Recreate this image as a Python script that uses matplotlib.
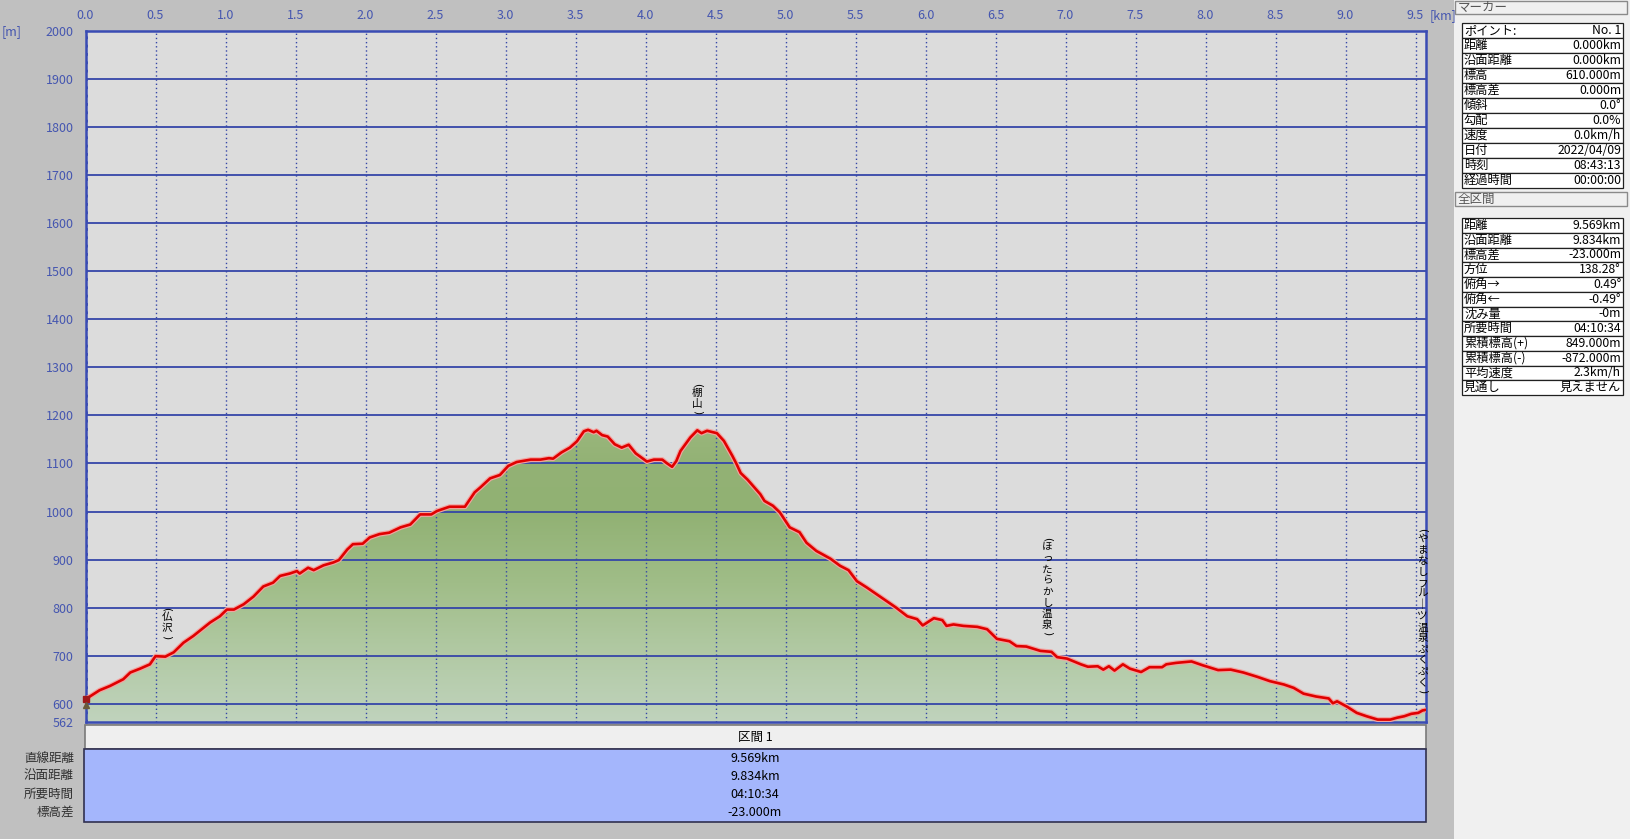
import numpy as np
import matplotlib
matplotlib.use('Agg')
import matplotlib.pyplot as plt
from matplotlib.patches import Rectangle, Polygon

plt.rcParams['font.family'] = ['Noto Sans CJK JP', 'DejaVu Sans']

# ---------------- data ----------------
km = [0.00, 0.02, 0.10, 0.175, 0.27, 0.32, 0.39, 0.46, 0.50, 0.57,
      0.63, 0.70, 0.77, 0.83, 0.89, 0.96, 1.01, 1.06, 1.13, 1.20,
      1.27, 1.34, 1.39, 1.46, 1.51, 1.53, 1.59, 1.63, 1.70, 1.77,
      1.81, 1.87, 1.91, 1.98, 2.03, 2.10, 2.17, 2.25, 2.32, 2.39,
      2.47, 2.51, 2.60, 2.71, 2.78, 2.82, 2.89, 2.96, 3.02, 3.08,
      3.18, 3.25, 3.31, 3.34, 3.40, 3.46, 3.51, 3.56, 3.59, 3.63,
      3.65, 3.69, 3.73, 3.78, 3.83, 3.88, 3.93, 4.01, 4.06, 4.12,
      4.15, 4.19, 4.22, 4.25, 4.32, 4.37, 4.40, 4.44, 4.51, 4.56,
      4.62, 4.65, 4.68, 4.73, 4.82, 4.85, 4.91, 4.96, 5.03, 5.10,
      5.15, 5.22, 5.32, 5.39, 5.45, 5.51, 5.58, 5.65, 5.72, 5.79,
      5.87, 5.94, 5.98, 6.06, 6.12, 6.15, 6.20, 6.27, 6.37, 6.44,
      6.51, 6.60, 6.65, 6.72, 6.82, 6.90, 6.94, 7.01, 7.11, 7.16,
      7.23, 7.27, 7.31, 7.35, 7.41, 7.46, 7.54, 7.60, 7.69, 7.72,
      7.79, 7.90, 7.98, 8.09, 8.18, 8.27, 8.37, 8.46, 8.56, 8.63,
      8.70, 8.79, 8.88, 8.91, 8.94, 9.01, 9.08, 9.15, 9.23, 9.32,
      9.37, 9.42, 9.47, 9.52, 9.55, 9.569]
elev = [610, 613, 628, 637, 651, 665, 673, 682, 699, 698,
        707, 727, 741, 755, 769, 782, 796, 796, 807, 823,
        844, 852, 866, 871, 876, 871, 883, 878, 888, 894,
        899, 921, 932, 933, 946, 953, 956, 967, 973, 994,
        994, 1001, 1010, 1010, 1040, 1050, 1069, 1076, 1095, 1103,
        1108, 1108, 1111, 1110, 1123, 1133, 1146, 1167, 1170, 1165,
        1168, 1159, 1156, 1140, 1133, 1139, 1121, 1104, 1108, 1108,
        1101, 1093, 1105, 1126, 1154, 1169, 1163, 1168, 1163, 1147,
        1116, 1099, 1080, 1066, 1036, 1022, 1012, 998, 967, 957,
        935, 918, 902, 887, 878, 855, 842, 828, 814, 800,
        782, 776, 763, 778, 774, 762, 765, 762, 760, 755,
        735, 730, 720, 719, 710, 708, 697, 694, 682, 677,
        678, 671, 678, 669, 682, 673, 666, 676, 676, 682,
        685, 688, 680, 670, 671, 665, 656, 647, 640, 633,
        621, 615, 611, 601, 605, 594, 581, 574, 567, 567,
        571, 574, 579, 581, 586, 587]

x_ticks = [0.0, 0.5, 1.0, 1.5, 2.0, 2.5, 3.0, 3.5, 4.0, 4.5,
           5.0, 5.5, 6.0, 6.5, 7.0, 7.5, 8.0, 8.5, 9.0, 9.5]
y_ticks = [562, 600, 700, 800, 900, 1000, 1100, 1200, 1300, 1400,
           1500, 1600, 1700, 1800, 1900, 2000]
x_max = 9.575
y_min, y_max = 562, 2000

landmarks = ['仏沢', '棚山', 'ほったらかし温泉', 'やまなしフル｜ツ温泉ぷくぷく']
landmark_km = [0.58, 4.37, 6.87, 9.55]
landmark_top = [803, 1270, 949, 967]

section_title = '区間 1'
section_labels = ['直線距離', '沿面距離', '所要時間', '標高差']
section_values = ['9.569km', '9.834km', '04:10:34', '-23.000m']

marker_title = 'マーカー'
marker_labels = ['ポイント:', '距離', '沿面距離', '標高', '標高差', '傾斜', '勾配',
                 '速度', '日付', '時刻', '経過時間']
marker_values = ['No. 1', '0.000km', '0.000km', '610.000m', '0.000m', '0.0°', '0.0%',
                 '0.0km/h', '2022/04/09', '08:43:13', '00:00:00']
total_title = '全区間'
total_labels = ['距離', '沿面距離', '標高差', '方位', '俯角→', '俯角←', '沈み量',
                '所要時間', '累積標高(+)', '累積標高(-)', '平均速度', '見通し']
total_values = ['9.569km', '9.834km', '-23.000m', '138.28°', '0.49°', '-0.49°', '-0m',
                '04:10:34', '849.000m', '-872.000m', '2.3km/h', '見えません']

# ---------------- layout helpers ----------------
W, H = 1630, 839
def fx(x):
    return x / W
def fy(y):
    return 1 - y / H

BLUE_TXT = '#4556b0'
GRID = '#3546a8'

fig = plt.figure(figsize=(W / 100, H / 100), dpi=100, facecolor='#c0c0c0')

# right panel background
fig.patches.append(Rectangle((fx(1454), 0), 1 - fx(1454), 1, transform=fig.transFigure,
                             facecolor='#f0f0f0', edgecolor='none', zorder=0))

ax_l, ax_r, ax_t, ax_b = 85.5, 1426, 31, 722
ax = fig.add_axes([fx(ax_l), fy(ax_b), fx(ax_r - ax_l), (ax_b - ax_t) / H])
ax.set_facecolor('#dcdcdc')
ax.set_xlim(0, x_max)
ax.set_ylim(y_min, y_max)

# gradient fill under profile
verts = list(zip(km, elev)) + [(km[-1], y_min), (km[0], y_min)]
poly = Polygon(verts, closed=True, facecolor='none', edgecolor='none')
ax.add_patch(poly)
zz = np.linspace(y_min, 1200, 400)
stops_e = [562, 700, 850, 1000, 1100, 1200]
stops_c = np.array([[192, 211, 189], [178, 202, 165], [160, 189, 136],
                    [145, 177, 115], [147, 178, 117], [156, 184, 126]]) / 255
rgb = np.stack([np.interp(zz, stops_e, stops_c[:, i]) for i in range(3)], axis=-1)
rgb = rgb[:, None, :].repeat(2, axis=1)
im = ax.imshow(rgb, extent=[0, x_max, y_min, 1200], origin='lower', aspect='auto',
               zorder=1, interpolation='bilinear')
im.set_clip_path(poly)

# grid
for yv in y_ticks[1:-1]:
    ax.axhline(yv, color=GRID, lw=1.3, zorder=2)
for xv in x_ticks:
    ax.axvline(xv, color=GRID, lw=2.0 if xv == 0 else 1.0, ls=(0, (1, 2)), zorder=2)

# profile line
ax.plot(km, elev, color='#f2a3a0', lw=3.6, zorder=3, solid_joinstyle='round')
ax.plot(km, elev, color='#e00000', lw=1.9, zorder=4, solid_joinstyle='round')

# hiker marker at start point
ax.plot(km[0], elev[0], marker='s', ms=5, color='#a01818', zorder=6, clip_on=False)
ax.plot(km[0], elev[0] - 12, marker='^', ms=4, color='#6a5a3a', zorder=6, clip_on=False)

# landmark labels (vertical text)
step = 8.0
for name, xk, top in zip(landmarks, landmark_km, landmark_top):
    chars = ['('] + list(name) + [')']
    off = 0.0
    for ch in chars:
        paren = ch in '()'
        h = 0.5 * step if paren else step
        ax.annotate(ch, xy=(xk, top), xytext=(0, -off - h / 2), textcoords='offset points',
                    ha='center', va='center', fontsize=7.6, color='black', zorder=7,
                    rotation=-90 if paren else 0, rotation_mode='default',
                    family=['DejaVu Sans'] if paren else ['Noto Sans CJK JP', 'DejaVu Sans'])
        off += h

# spines
for s in ax.spines.values():
    s.set_color('#3a4cb4')
    s.set_linewidth(1.8)

# ticks
ax.xaxis.tick_top()
ax.set_xticks(x_ticks)
ax.set_xticklabels([f'{v:.1f}' for v in x_ticks])
ax.set_yticks(y_ticks)
ax.set_yticklabels([str(v) for v in y_ticks])
ax.tick_params(axis='x', length=0, pad=6.5, labelsize=9, labelcolor=BLUE_TXT)
ax.tick_params(axis='y', length=0, pad=8.5, labelsize=9, labelcolor=BLUE_TXT)
fig.text(fx(1430), fy(16), '[km]', ha='left', va='center', fontsize=9, color=BLUE_TXT)
fig.text(fx(2), fy(32), '[m]', ha='left', va='center', fontsize=9, color=BLUE_TXT)

# ---------------- bottom section table ----------------
fig.patches.append(Rectangle((fx(85), fy(749)), fx(1426 - 85), (749 - 725) / H,
                             transform=fig.transFigure, facecolor='#efefef',
                             edgecolor='#7a7a7a', lw=1.2, zorder=1))
fig.text(fx(755), fy(737), section_title, ha='center', va='center', fontsize=9, color='black')
fig.patches.append(Rectangle((fx(84), fy(822)), fx(1426 - 84), (822 - 749) / H,
                             transform=fig.transFigure, facecolor='#a4b6fc',
                             edgecolor='#303050', lw=1.2, zorder=1))
row_y = [758, 776, 794, 812]
for lab, val, yy in zip(section_labels, section_values, row_y):
    fig.text(fx(74), fy(yy), lab, ha='right', va='center', fontsize=9, color='#303030')
    fig.text(fx(755), fy(yy), val, ha='center', va='center', fontsize=9, color='black')

# ---------------- right panel ----------------
def header(top, bottom, text):
    fig.patches.append(Rectangle((fx(1455), fy(bottom)), fx(1627 - 1455), (bottom - top) / H,
                                 transform=fig.transFigure, facecolor='#f0f0f0',
                                 edgecolor='#8a8a8a', lw=1.0, zorder=1))
    fig.text(fx(1458), fy((top + bottom) / 2), text, ha='left', va='center',
             fontsize=9, color='#555555')

def table(top, bottom, labels, values):
    n = len(labels)
    rh = (bottom - top) / n
    for i, (lab, val) in enumerate(zip(labels, values)):
        y0 = top + i * rh
        fig.patches.append(Rectangle((fx(1462), fy(y0 + rh)), fx(1623 - 1462), rh / H,
                                     transform=fig.transFigure, facecolor='white',
                                     edgecolor='#202020', lw=0.9, zorder=1))
        fig.text(fx(1464), fy(y0 + rh / 2), lab, ha='left', va='center', fontsize=8.8,
                 color='black')
        fig.text(fx(1621), fy(y0 + rh / 2), val, ha='right', va='center', fontsize=8.8,
                 color='black')

header(1, 14, marker_title)
table(23, 188, marker_labels, marker_values)
header(192, 206, total_title)
table(218, 395, total_labels, total_values)

fig.savefig('out.png', dpi=100, facecolor=fig.get_facecolor())
